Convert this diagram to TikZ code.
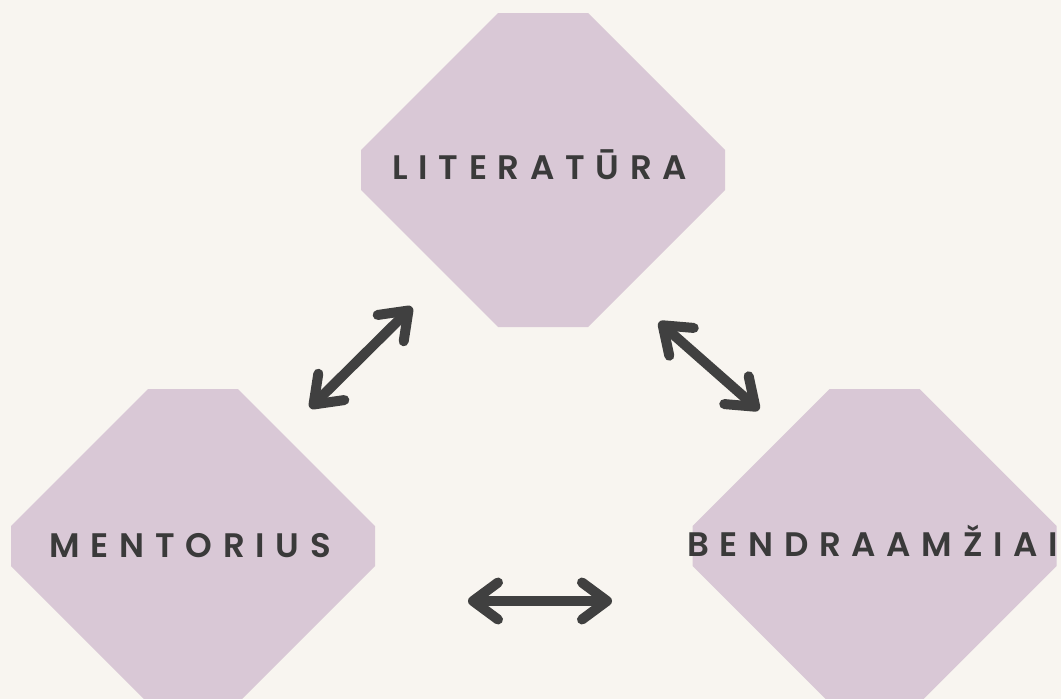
\documentclass[tikz,border=0pt]{standalone}
\usepackage{fontspec}
\newfontfamily\pop{Poppins SemiBold}[LetterSpace=31.5]
\usetikzlibrary{arrows.meta}
\definecolor{bg}{HTML}{F8F5F0}
\definecolor{oct}{HTML}{D9C8D6}
\definecolor{ink}{HTML}{3A3A3A}
\definecolor{arr}{HTML}{404040}
\tikzset{
  octa/.style={fill=oct},
  lbl/.style={font=\pop\fontsize{34}{40}\selectfont, text=ink, inner sep=0pt, anchor=base west},
  biarrow/.style={draw=arr, line width=10pt, line cap=round,
    {Straight Barb[round,length=25pt,width=37pt]}-{Straight Barb[round,length=25pt,width=37pt]}}
}
\newcommand\octagonshape[2]{%
  \fill[octa] ({#1-45},{#2-157}) -- ({#1+45},{#2-157}) -- ({#1+182},{#2-20}) -- ({#1+182},{#2+20})
    -- ({#1+45},{#2+157}) -- ({#1-45},{#2+157}) -- ({#1-182},{#2+20}) -- ({#1-182},{#2-20}) -- cycle;}
\begin{document}
\begin{tikzpicture}[x=1pt,y=-1pt]
  \useasboundingbox (0,0) rectangle (1061,699);
  \clip (0,0) rectangle (1061,699);
  \fill[bg] (0,0) rectangle (1061,699);
  \octagonshape{543}{170}
  \octagonshape{193}{546}
  \octagonshape{874.5}{546}
  \node[lbl] (lit) at (392,179) {LITERATŪRA};
  \node[lbl] (men) at (49.5,557) {MENTORIUS};
  \node[lbl] (ben) at (687,556) {BENDRAAMŽIAI};
  \coordinate (a1t) at (412,307);
  \coordinate (a1b) at (310,408);
  \coordinate (a2t) at (659,322);
  \coordinate (a2b) at (759,410);
  \coordinate (a3l) at (468,601);
  \coordinate (a3r) at (612,601);
  \draw[biarrow] (a1b) -- (a1t);
  \draw[biarrow] (a2t) -- (a2b);
  \draw[biarrow] (a3l) -- (a3r);
\end{tikzpicture}
\end{document}
